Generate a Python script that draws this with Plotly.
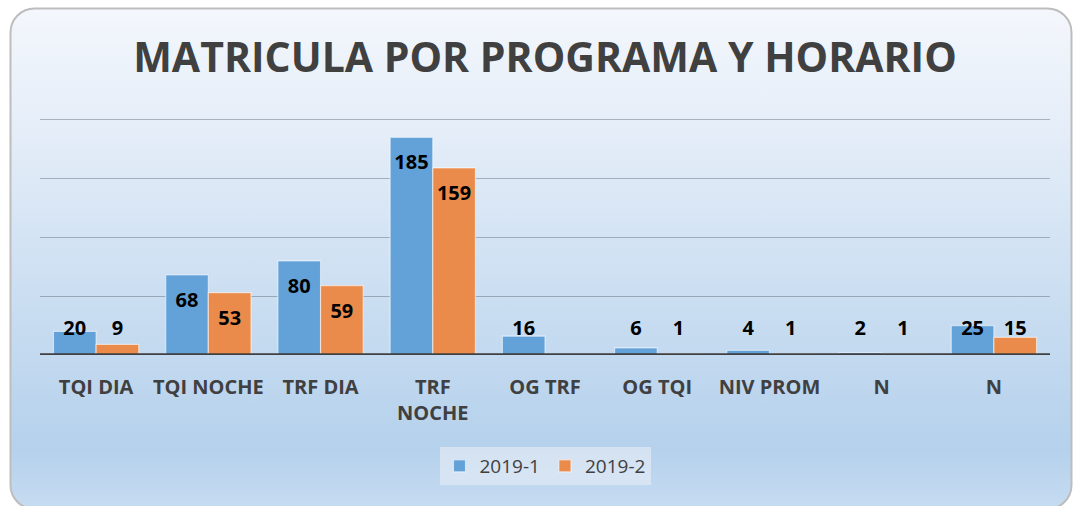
import base64
import plotly.graph_objects as go

categories = ["TQI DIA", "TQI NOCHE", "TRF DIA", "TRF<br>NOCHE", "OG TRF", "OG TQI", "NIV PROM", "N", "N"]
serie_2019_1 = [20, 68, 80, 185, 16, 6, 4, 2, 25]
serie_2019_2 = [9, 53, 59, 159, None, 1, 1, 1, 15]
series_names = ["2019-1", "2019-2"]

BLUE = "#63A1D9"
ORANGE = "#EA8B4C"
W, H = 1073, 506
ML, MR, MT, MB = 40, 23, 115, 151
PW, PH = W - ML - MR, H - MT - MB
YMAX = 204

x_idx = list(range(len(categories)))
bargap = 0.24
half = (1 - bargap) / 4  # offset of each bar centre

def label_y(v):
    # Excel-like inside-end labels, clamped near the baseline
    return max(v - 23, 21)

fig = go.Figure()
for name, vals, col in [(series_names[0], serie_2019_1, BLUE),
                        (series_names[1], serie_2019_2, ORANGE)]:
    fig.add_trace(go.Bar(
        x=x_idx, y=[v if v is not None else 0 for v in vals], name=name,
        marker=dict(color=col, line=dict(color="rgba(255,255,255,0.55)", width=1.2)),
        hoverinfo="skip"))
for vals, sgn in [(serie_2019_1, -1), (serie_2019_2, 1)]:
    xs = [i + sgn * half for i, v in enumerate(vals) if v is not None]
    ys = [label_y(v) for v in vals if v is not None]
    tx = [f"<b>{v}</b>" for v in vals if v is not None]
    fig.add_trace(go.Scatter(
        x=xs, y=ys, text=tx, mode="text", showlegend=False, hoverinfo="skip",
        textfont=dict(family="Open Sans", size=20, color="#000000")))

svg = f'''<svg xmlns="http://www.w3.org/2000/svg" width="{W}" height="{H}" viewBox="0 0 {W} {H}">
<defs><linearGradient id="g" x1="0" y1="0" x2="0" y2="1">
<stop offset="0" stop-color="#F4F7FC"/>
<stop offset="0.25" stop-color="#E4EDF8"/>
<stop offset="0.6" stop-color="#C9DDF1"/>
<stop offset="0.88" stop-color="#B5D1EC"/>
<stop offset="1" stop-color="#C6DCF1"/>
</linearGradient></defs>
<rect x="10.5" y="8.5" width="1061" height="500.5" rx="24" ry="24" fill="url(#g)" stroke="#BDBDBD" stroke-width="2"/>
</svg>'''
uri = "data:image/svg+xml;base64," + base64.b64encode(svg.encode()).decode()

fig.add_layout_image(dict(
    source=uri, xref="paper", yref="paper",
    x=-ML / PW, y=1 + MT / PH, sizex=W / PW, sizey=H / PH,
    xanchor="left", yanchor="top", sizing="stretch", layer="below"))

# baseline drawn above the bars
fig.add_shape(type="line", xref="paper", yref="y", x0=0, x1=1, y0=0, y1=0,
              line=dict(color="#404040", width=3.5), layer="above")

fig.update_layout(
    width=W, height=H,
    margin=dict(l=ML, r=MR, t=MT, b=MB),
    paper_bgcolor="white", plot_bgcolor="rgba(0,0,0,0)",
    barmode="group", bargap=bargap, bargroupgap=0,
    title=dict(text="<b>MATRICULA POR PROGRAMA Y HORARIO</b>",
               font=dict(family="Open Sans", size=41, color="#404040"),
               x=0.5, xref="paper", xanchor="center",
               y=1 - 58 / H, yref="container", yanchor="middle"),
    legend=dict(orientation="h", x=0.5, xanchor="center", y=-(447 - 355) / PH, yanchor="top",
                bgcolor="rgba(225,234,245,0.7)", font=dict(family="Open Sans", size=19, color="#404040"),
                itemwidth=30, borderwidth=0),
    showlegend=True,
    font=dict(family="Open Sans"),
)
fig.update_xaxes(
    tickmode="array", tickvals=x_idx, ticktext=[f"<b>{c}</b>" for c in categories],
    range=[-0.5, len(categories) - 0.5], showgrid=False, zeroline=False, showline=False,
    ticks="", ticklabelstandoff=18,
    tickfont=dict(family="Open Sans", size=20, color="#404040"))
fig.update_yaxes(
    range=[0, YMAX], tickvals=[50, 100, 150, 200], showgrid=True,
    gridcolor="rgba(70,80,90,0.38)", gridwidth=1.3,
    zeroline=False, showticklabels=False, showline=False)

fig.write_html("out.html", config={"displayModeBar": False},
               post_script="document.body.style.margin='0';document.body.style.overflow='hidden';")
